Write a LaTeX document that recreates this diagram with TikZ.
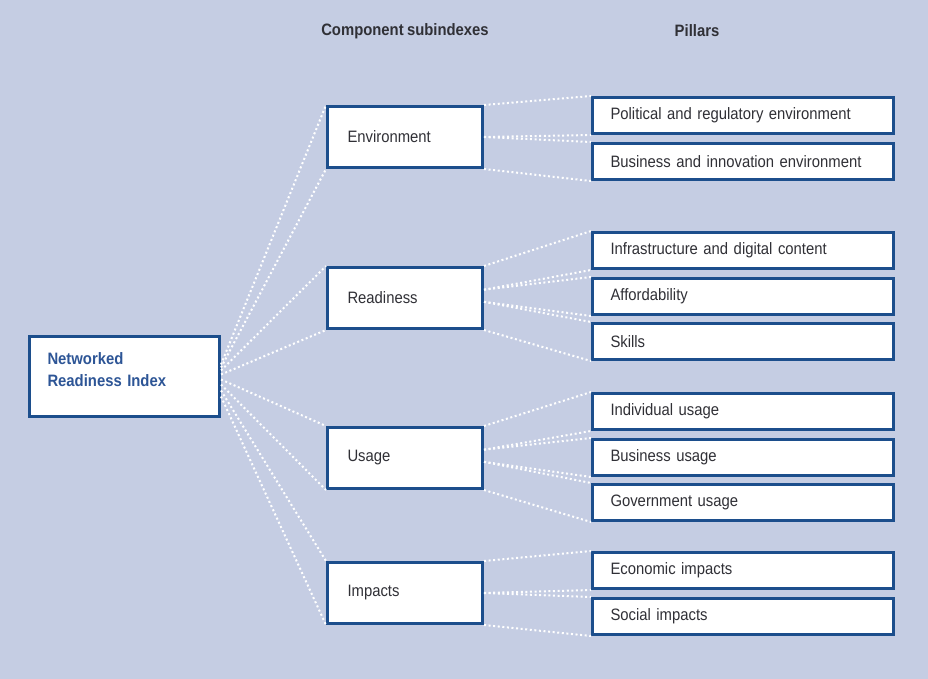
\documentclass[tikz,border=0pt]{standalone}
\usepackage{fontspec}
\setmainfont{Liberation Sans}[FakeStretch=0.9,WordSpace=0.8]
\usepackage{xcolor}
\definecolor{bgblue}{RGB}{197,205,227}
\definecolor{boxblue}{RGB}{28,78,140}
\definecolor{nriblue}{RGB}{45,85,150}
\definecolor{txtgray}{RGB}{48,48,54}
\usepackage{tikz}
\usetikzlibrary{positioning}
\usetikzlibrary{calc}
\newcommand{\boxfont}{\fontsize{16.5}{22}\selectfont}

\begin{document}
\begin{tikzpicture}[x=1pt,y=-1pt,
    box/.style={draw=boxblue,line width=3pt,fill=white,anchor=north west,
                align=left,text=txtgray,font=\boxfont,inner ysep=2pt},
    pillarbox/.style={box,text width=265pt,inner xsep=18pt,minimum height=36pt},
    subbox/.style={box,text width=115pt,inner xsep=20pt,minimum height=61pt},
    head/.style={font=\boxfont\bfseries,text=txtgray}]
	\fill[bgblue] (0,0) rectangle (928,679);
	\useasboundingbox (0,0) rectangle (928,679);

	% column titles
	\node[head] (hsub) at (405,31) {Component subindexes};
	\node[head] (hpil) at (697,31) {Pillars};

	% index and subindexes
	\node[box,text width=154pt,inner xsep=18pt,minimum height=80pt,text depth=35pt,
	      text=nriblue,font=\boxfont\bfseries] (nri) at (28,335) {Networked\\Readiness Index};
	\node[subbox] (env) at (326,105) {Environment};
	\node[subbox] (rdy) at (326,266) {Readiness};
	\node[subbox] (usg) at (326,426) {Usage};
	\node[subbox] (imp) at (326,561) {Impacts};

	% pillars
	\node[pillarbox] (pol) at (591,96) {Political and regulatory environment};
	\node[pillarbox] (bus) at (591,142) {Business and innovation environment};
	\node[pillarbox] (inf) at (591,231) {Infrastructure and digital content};
	\node[pillarbox] (aff) at (591,277) {Affordability};
	\node[pillarbox] (skl) at (591,322) {Skills};
	\node[pillarbox] (ind) at (591,392) {Individual usage};
	\node[pillarbox] (bsu) at (591,438) {Business usage};
	\node[pillarbox] (gov) at (591,483) {Government usage};
	\node[pillarbox] (eco) at (591,551) {Economic impacts};
	\node[pillarbox] (soc) at (591,597) {Social impacts};

	% meeting points on the right of the subindexes
	\coordinate (envm) at (env.east);
	\coordinate (rdya) at ($(rdy.north east)!0.37!(rdy.south east)$);
	\coordinate (rdyb) at ($(rdy.north east)!0.56!(rdy.south east)$);
	\coordinate (usga) at ($(usg.north east)!0.37!(usg.south east)$);
	\coordinate (usgb) at ($(usg.north east)!0.56!(usg.south east)$);
	\coordinate (impm) at (imp.east);

	\begin{scope}[every edge/.style={draw=white,line width=2pt,
	                                 dash pattern=on 2pt off 2.6pt}]
    	\path ([yshift=12pt]nri.east) edge (env.north west);
    	\path ([yshift=9pt]nri.east) edge (env.south west);
    	\path ([yshift=6pt]nri.east) edge (rdy.north west);
    	\path ([yshift=2pt]nri.east) edge (rdy.south west);
    	\path ([yshift=-3pt]nri.east) edge (usg.north west);
    	\path ([yshift=-8pt]nri.east) edge (usg.south west);
    	\path ([yshift=-14pt]nri.east) edge (imp.north west);
    	\path ([yshift=-20pt]nri.east) edge (imp.south west);

    	\path (env.north east) edge (pol.north west);
    	\path (envm) edge (pol.south west);
    	\path (envm) edge (bus.north west);
    	\path (env.south east) edge (bus.south west);

    	\path (rdy.north east) edge (inf.north west);
    	\path (rdya) edge (inf.south west);
    	\path (rdya) edge (aff.north west);
    	\path (rdyb) edge (aff.south west);
    	\path (rdyb) edge (skl.north west);
    	\path (rdy.south east) edge (skl.south west);

    	\path (usg.north east) edge (ind.north west);
    	\path (usga) edge (ind.south west);
    	\path (usga) edge (bsu.north west);
    	\path (usgb) edge (bsu.south west);
    	\path (usgb) edge (gov.north west);
    	\path (usg.south east) edge (gov.south west);

    	\path (imp.north east) edge (eco.north west);
    	\path (impm) edge (eco.south west);
    	\path (impm) edge (soc.north west);
    	\path (imp.south east) edge (soc.south west);
	\end{scope}
\end{tikzpicture}
\end{document}
